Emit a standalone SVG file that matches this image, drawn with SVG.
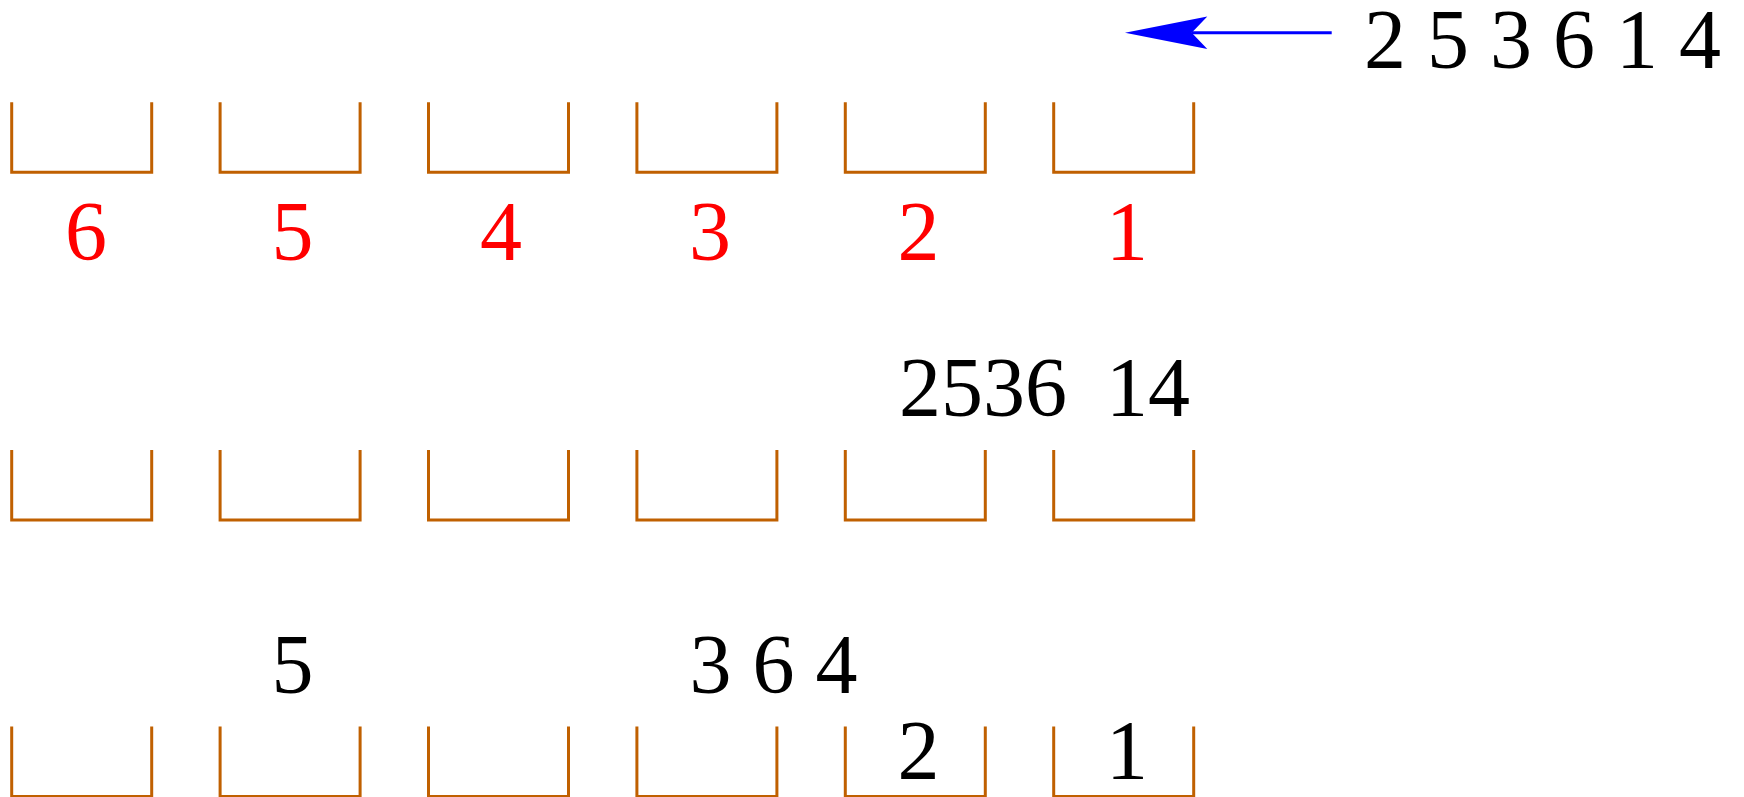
<svg xmlns="http://www.w3.org/2000/svg" width="1744" height="797" viewBox="0 0 1744 797">
<style>
.bk{fill:none;stroke:#c06000;stroke-width:3}
.t{font-family:"Liberation Serif","Times New Roman",serif;font-size:84px;fill:#000}
.r{fill:#ff0000}
.m{text-anchor:middle}
.ar{stroke:#0000ff;stroke-width:3;fill:none}
</style>
<defs>
<path id="bucket" class="bk" d="M0,0 V70 H140 V0"/>
<marker id="head" markerUnits="userSpaceOnUse" orient="auto" refX="15.6" refY="0" markerWidth="90" markerHeight="40" overflow="visible">
<path d="M0,-16.3 L82.3,0 L0,16.3 L15.6,0 Z" fill="#0000ff"/>
</marker>
</defs>
<rect width="1744" height="797" fill="#fff"/>
<g id="connectors">
<line class="ar" x1="1331.7" y1="32.7" x2="1191.7" y2="32.7" marker-end="url(#head)"/>
</g>
<g id="input"><text class="t" x="1364" y="68.3" xml:space="preserve">2 5 3 6 1 4</text></g>
<g id="row1">
<use href="#bucket" x="11.7" y="102.3"/>
<use href="#bucket" x="220.1" y="102.3"/>
<use href="#bucket" x="428.5" y="102.3"/>
<use href="#bucket" x="636.9" y="102.3"/>
<use href="#bucket" x="845.3" y="102.3"/>
<use href="#bucket" x="1053.7" y="102.3"/>
</g>
<g id="labels">
<text class="t r m" x="86" y="260">6</text>
<text class="t r m" x="292.5" y="260">5</text>
<text class="t r m" x="501" y="260">4</text>
<text class="t r m" x="710" y="260">3</text>
<text class="t r m" x="918.5" y="260">2</text>
<text class="t r m" x="1127" y="260">1</text>
</g>
<g id="row2">
<use href="#bucket" x="11.7" y="450"/>
<use href="#bucket" x="220.1" y="450"/>
<use href="#bucket" x="428.5" y="450"/>
<use href="#bucket" x="636.9" y="450"/>
<use href="#bucket" x="845.3" y="450"/>
<use href="#bucket" x="1053.7" y="450"/>
<text class="t" x="899" y="416">2536</text>
<text class="t" x="1106" y="416">14</text>
</g>
<g id="row3">
<use href="#bucket" x="11.7" y="726.5"/>
<use href="#bucket" x="220.1" y="726.5"/>
<use href="#bucket" x="428.5" y="726.5"/>
<use href="#bucket" x="636.9" y="726.5"/>
<use href="#bucket" x="845.3" y="726.5"/>
<use href="#bucket" x="1053.7" y="726.5"/>
<text class="t m" x="292.5" y="693.3">5</text>
<text class="t" x="689.5" y="693.3" xml:space="preserve">3 6 4</text>
<text class="t m" x="918.5" y="779.3">2</text>
<text class="t m" x="1127" y="779.3">1</text>
</g>
</svg>
